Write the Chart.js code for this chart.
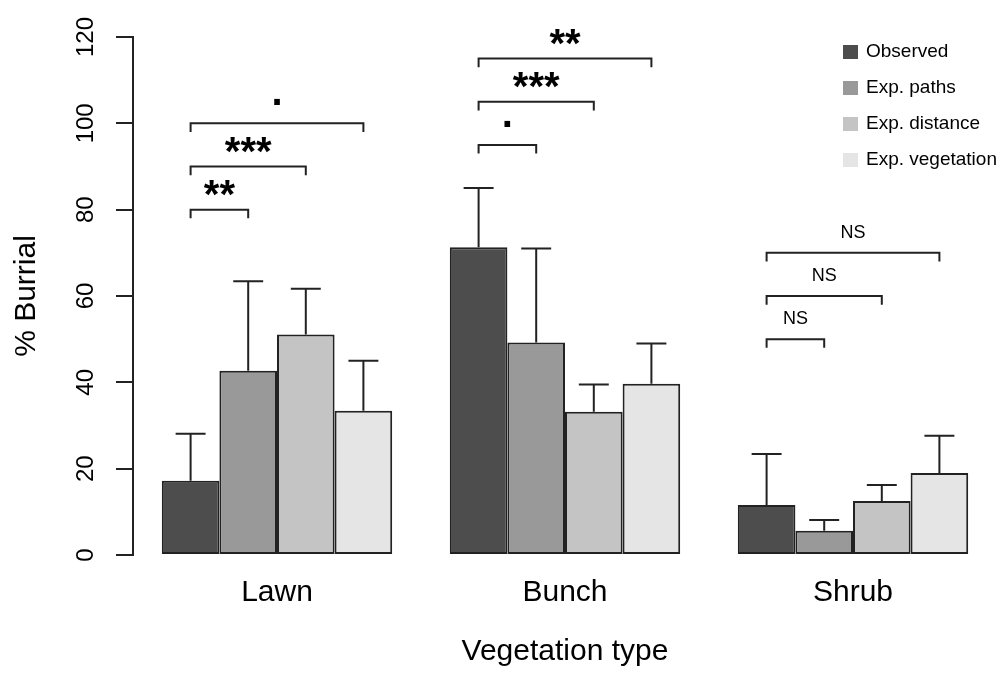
<!DOCTYPE html>
<html>
<head>
<meta charset="utf-8">
<script src="https://cdn.jsdelivr.net/npm/chart.js@4"></script>
<style>
  body { margin: 0; background: #fff; overflow: hidden; }
  canvas { display: block; }
</style>
</head>
<body>
<canvas id="graficaBurrial" width="1004" height="675"></canvas>
<script>
// datos
const categories = ["Lawn", "Bunch", "Shrub"];
const seriesNames = ["Observed", "Exp. paths", "Exp. distance", "Exp. vegetation"];

const observed = [17.2, 71.3, 11.6];
const expPaths = [42.7, 49.2, 5.6];
const expDistance = [51.1, 33.2, 12.5];
const expVegetation = [33.4, 39.7, 19.0];

// error (solo hacia arriba)
const errObserved = [10.9, 13.7, 11.8];
const errPaths = [20.7, 21.8, 2.5];
const errDistance = [10.6, 6.3, 3.7];
const errVegetation = [11.6, 9.3, 8.6];

const yTicks = [0, 20, 40, 60, 80, 100, 120];

// comparaciones Observed vs cada esperado
const bracketLevels = [[80, 90, 100], [95, 105, 115], [50, 60, 70]];
const bracketLabels = [["**", "***", "."], [".", "***", "**"], ["NS", "NS", "NS"]];

const values = [observed, expPaths, expDistance, expVegetation];
const errors = [errObserved, errPaths, errDistance, errVegetation];
const colors = ["#4d4d4d", "#999999", "#c4c4c4", "#e5e5e5"];

Chart.defaults.font.family = "'Liberation Sans', Arial, sans-serif";

const extras = {
    id: "extras",
    afterDatasetsDraw(chart){
        const ctx = chart.ctx;
        const y = chart.scales.y;
        const area = chart.chartArea;

        ctx.save();
        ctx.strokeStyle = "#222";
        ctx.lineWidth = 2;

        // barras de error
        errors.forEach((errs, d) => {
            chart.getDatasetMeta(d).data.forEach((bar, i) => {
                const top = y.getPixelForValue(values[d][i] + errs[i]);
                const half = bar.width * 0.26;
                ctx.beginPath();
                ctx.moveTo(bar.x, bar.y);
                ctx.lineTo(bar.x, top);
                ctx.moveTo(bar.x - half, top);
                ctx.lineTo(bar.x + half, top);
                ctx.stroke();
            });
        });

        // corchetes de significancia
        ctx.fillStyle = "#000";
        ctx.textAlign = "center";
        ctx.textBaseline = "alphabetic";
        bracketLevels.forEach((levels, i) => {
            const x0 = chart.getDatasetMeta(0).data[i].x;
            levels.forEach((lvl, k) => {
                const x1 = chart.getDatasetMeta(k + 1).data[i].x;
                const yl = y.getPixelForValue(lvl);
                const yt = y.getPixelForValue(lvl - 2);
                ctx.beginPath();
                ctx.moveTo(x0, yt);
                ctx.lineTo(x0, yl);
                ctx.lineTo(x1, yl);
                ctx.lineTo(x1, yt);
                ctx.stroke();

                const txt = bracketLabels[i][k];
                ctx.font = txt === "NS"
                    ? "18px 'Liberation Sans'"
                    : "bold 40px 'Liberation Sans'";
                const m = ctx.measureText(txt);
                const cy = y.getPixelForValue(lvl + 5);
                ctx.fillText(txt, (x0 + x1) / 2,
                    cy + (m.actualBoundingBoxAscent - m.actualBoundingBoxDescent) / 2);
            });
        });

        // leyenda
        ctx.textAlign = "left";
        ctx.textBaseline = "middle";
        ctx.font = "19px 'Liberation Sans'";
        seriesNames.forEach((name, d) => {
            const lx = area.right - 154;
            const ly = area.top + 15 + 36 * d;
            ctx.fillStyle = colors[d];
            ctx.fillRect(lx, ly - 7, 15, 14);
            ctx.fillStyle = "#000";
            ctx.fillText(name, lx + 23, ly);
        });

        // etiquetas del eje y, giradas
        ctx.font = "24px 'Liberation Sans'";
        ctx.textAlign = "center";
        ctx.textBaseline = "alphabetic";
        yTicks.forEach(v => {
            ctx.save();
            ctx.translate(area.left - 40, y.getPixelForValue(v));
            ctx.rotate(-Math.PI / 2);
            ctx.fillText(String(v), 0, 0);
            ctx.restore();
        });

        ctx.restore();
    }
};

const grafica = new Chart(document.getElementById("graficaBurrial"), {
    type: "bar",
    data: {
        labels: categories,
        datasets: seriesNames.map((name, d) => ({
            label: name,
            data: values[d],
            backgroundColor: colors[d],
            borderColor: "#222",
            borderWidth: 2,
            borderSkipped: false,
            barPercentage: 1,
            categoryPercentage: 0.8
        }))
    },
    options: {
        responsive: false,
        animation: false,
        devicePixelRatio: 1,
        layout: {
            padding: { top: 37, left: 9, right: 7, bottom: 5 }
        },
        plugins: {
            legend: { display: false },
            tooltip: { enabled: false }
        },
        scales: {
            x: {
                grid: { display: false, drawTicks: false },
                border: { display: false },
                ticks: { color: "#000", font: { size: 30 }, padding: 20 },
                title: {
                    display: true,
                    text: "Vegetation type",
                    color: "#000",
                    font: { size: 30 },
                    padding: { top: 3, bottom: 0 }
                }
            },
            y: {
                min: 0,
                max: 120,
                afterBuildTicks: s => {
                    s.ticks = yTicks.map(v => ({ value: v }));
                },
                ticks: { display: false },
                grid: {
                    drawOnChartArea: false,
                    tickLength: 17,
                    color: "#222",
                    lineWidth: 2
                },
                border: { color: "#222", width: 2 },
                title: {
                    display: true,
                    text: "% Burrial",
                    color: "#000",
                    font: { size: 30 },
                    padding: { top: 0, bottom: 71 }
                }
            }
        }
    },
    plugins: [extras]
});
</script>
</body>
</html>
